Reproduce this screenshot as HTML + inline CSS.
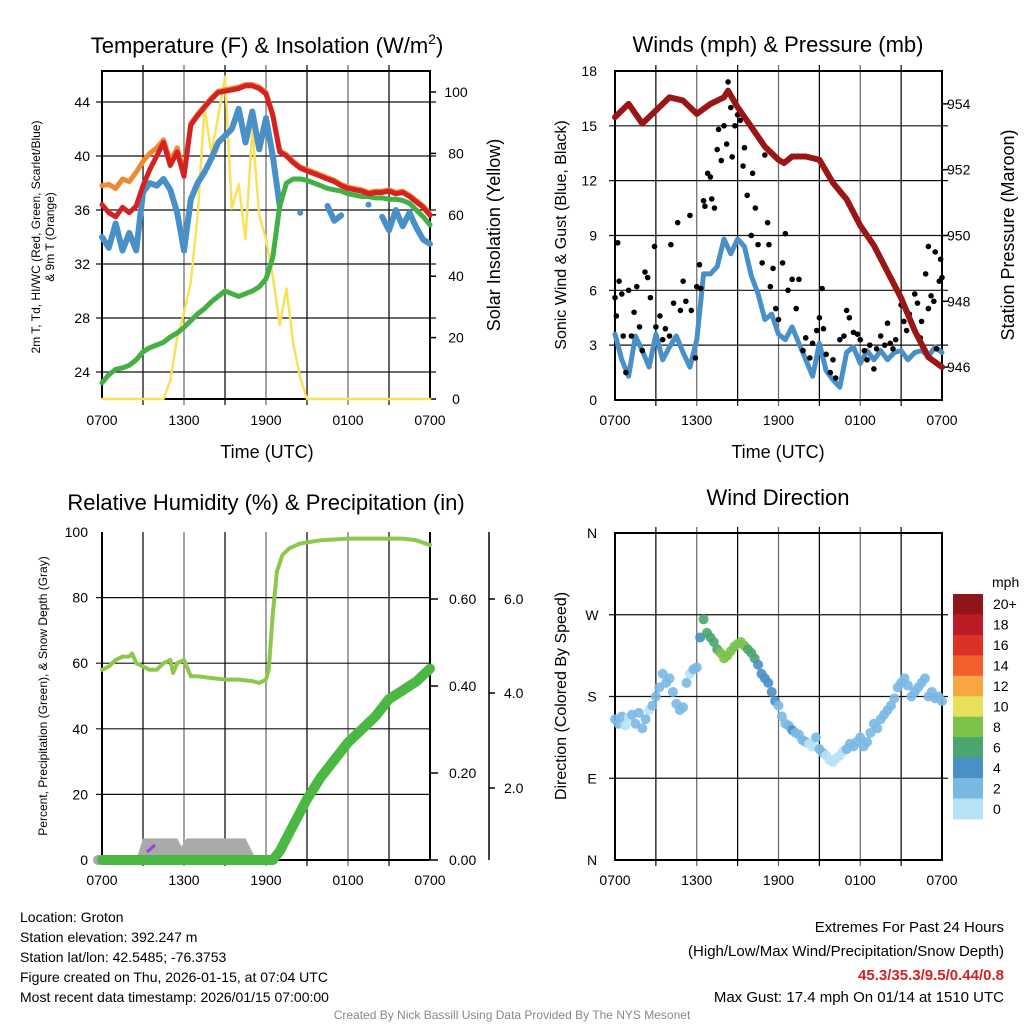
<!DOCTYPE html>
<html><head><meta charset="utf-8"><style>
html,body{margin:0;padding:0;background:#fff;}
svg{display:block;font-family:"Liberation Sans",Arial,sans-serif;}
</style></head><body>
<svg id="chart" width="1024" height="1024" viewBox="0 0 1024 1024" xmlns="http://www.w3.org/2000/svg"></svg>
<script>
// ---------- DATA ----------
const hourLabels = ["0700","1300","1900","0100","0700"];
const halfHours = []; for (let i = 0; i <= 48; i++) halfHours.push(i / 2);
const tempRed = [36.4,35.8,35.5,36.2,35.8,36.3,37.8,39.0,40.0,41.0,39.3,40.3,38.5,
 42.3,43.0,43.6,44.2,44.7,44.8,44.9,45.0,45.2,45.2,45.0,44.6,
 43.0,40.3,40.0,39.5,39.1,38.9,38.7,38.5,38.3,38.1,37.8,37.6,37.5,37.4,37.2,37.3,37.3,37.4,37.2,37.3,37.0,36.6,36.2,35.6];
const tempOrange = [37.8,37.9,37.6,38.3,38.1,38.8,39.6,40.2,40.6,41.2,39.6,40.6,38.8,
 42.4,43.1,43.7,44.3,44.8,44.9,45.0,45.1,45.3,45.3,45.1,44.7,
 43.1,40.4,40.1,39.6,39.2,39.0,38.8,38.6,38.4,38.2,37.9,37.7,37.6,37.5,37.3,37.4,37.4,37.5,37.3,37.4,37.1,36.7,36.3,35.7];
const tempBlue = [34.0,33.2,35.0,33.0,34.3,33.0,37.3,38.0,37.8,38.3,37.5,35.8,33.0,
 36.8,38.0,38.8,39.8,41.0,41.5,42.0,43.5,41.0,43.3,40.5,42.8,
 40.0,36.3,null,null,35.8,null,null,null,36.3,35.2,35.6,null,null,null,36.4,null,35.5,34.5,36.0,34.8,35.8,34.7,33.8,33.5];
const tempGreen = [23.2,23.8,24.2,24.3,24.5,24.9,25.5,25.8,26.0,26.2,26.6,26.9,27.3,
 27.8,28.3,28.7,29.2,29.6,30.0,29.8,29.6,29.8,30.0,30.3,30.9,
 32.5,36.3,38.0,38.3,38.3,38.2,38.0,37.8,37.6,37.5,37.4,37.2,37.1,37.0,37.0,36.9,36.9,36.8,36.8,36.7,36.5,36.0,35.5,34.9];
const solar = [0,0,0,0,0,0,0,0,0,0,
 6,20,28,38,60,95,80,92,105,62,70,52,88,60,52,40,24,36,18,7,
 0,0,0,0,0,0,0,0,0,0,0,0,0,0,0,0,0,0,0];
const pressHours = [0,1,2,3,4,5,6,7,8,8.3,9,10,11,12,12.4,13,14,15,16,17,18,19,20,21,22,23,24];
const pressure = [953.6,954.0,953.4,953.8,954.2,954.1,953.7,954.0,954.2,954.4,953.9,953.3,952.7,952.3,952.2,952.4,952.4,952.3,951.6,951.1,950.3,949.7,948.9,948.1,947.1,946.3,946.0];
const windSpeed = [3.6,2.2,1.3,3.5,2.7,1.8,3.6,2.2,2.9,3.5,2.6,1.8,3.3,6.9,6.9,7.3,8.8,8.0,8.8,8.4,
 6.8,5.8,4.4,4.7,3.6,3.3,4.0,3.1,2.2,1.3,3.1,1.6,1.1,0.7,2.6,2.9,2.0,2.7,2.2,2.7,2.2,2.6,2.7,2.2,2.6,2.7,2.4,2.9,2.6];
const gustHours = [0,0.1,0.2,0.3,0.5,0.6,0.8,1,1.2,1.4,1.6,1.8,2,2.2,2.4,2.6,2.9,3.0,3.3,3.5,3.7,4.0,4.1,4.3,4.6,4.8,5.0,5.2,5.5,5.6,5.9,6.0,6.2,6.3,6.5,6.6,6.8,7.0,7.1,7.3,7.5,7.6,7.8,8.0,8.2,8.3,8.5,8.6,8.8,9.0,9.2,9.4,9.5,9.7,10,10.1,10.3,10.5,10.8,11,11.2,11.3,11.4,11.6,11.8,12,12.3,12.5,12.7,13,13.3,13.5,13.8,14,14.3,14.5,14.8,15,15.2,15.3,15.5,15.8,16,16.2,16.5,16.8,17,17.2,17.5,17.8,18,18.3,18.5,18.7,19,19.2,19.5,19.8,20,20.2,20.4,20.6,21,21.2,21.4,21.6,22,22.2,22.4,22.5,22.8,23,23.2,23.4,23.6,23.8,24,23.9,23.5,23.0];
const gustSpeed = [5.6,4.6,8.6,6.5,5.8,3.5,1.5,6.0,3.5,4.8,6.2,4.0,2.7,7.0,6.7,5.6,8.4,4.0,4.6,3.3,3.9,3.5,8.5,5.3,9.7,4.9,6.5,5.4,10.1,4.9,2.3,6.2,7.4,6.1,10.9,10.6,12.4,12.2,11.0,10.5,13.7,14.8,13.1,15.0,14.0,17.4,16.0,13.3,15.0,15.6,15.3,12.8,13.8,11.2,9.0,12.4,10.5,8.5,7.5,13.4,9.7,8.5,6.2,7.2,5.0,4.4,7.5,9.1,6.0,6.6,5.0,6.6,2.7,3.4,2.3,3.1,3.8,4.5,6.1,3.9,2.5,1.5,2.2,1.2,3.3,3.5,4.9,4.5,3.7,3.6,3.3,2.7,2.2,3.0,1.7,2.8,3.5,3.0,4.2,3.1,2.8,3.3,5.2,4.3,3.8,4.7,5.8,5.3,3.4,4.3,6.9,5.0,5.7,5.4,2.8,6.5,6.7,7.7,8.1,8.4];
const rhHours = [0,0.5,1,1.5,2,2.2,2.5,3,3.5,4,4.5,5,5.2,5.5,6,6.5,7,8,9,10,11,11.5,12,12.2,12.5,12.8,13.2,13.7,14.5,16,18,20,22,23,24];
const rhValues = [58,59,61,62,62,63,60,59,58,58,60,61,57,60,61,56,56,55.5,55,55,54.5,54,55,58,75,88,93,95,96.5,97.5,98,98,98,97.5,96];
const precipHours = [0,12.5,13,14,15,16,17,18,19,20,21,22,23,24];
const precipValues = [0,0,0.02,0.08,0.14,0.19,0.23,0.27,0.30,0.33,0.37,0.39,0.41,0.44];
const snowHours = [0,2.5,3,5.5,5.8,6.2,10.5,11.3,24];
const snowValues = [0,0,0.8,0.8,0.5,0.8,0.8,0,0];
const dirValues = [155,150,158,148,157,160,150,162,145,155,165,170,180,190,205,195,200,185,172,165,168,195,205,210,212,
 245,265,250,245,240,232,228,222,225,230,235,238,240,236,232,228,222,215,205,200,195,185,175,170,
 158,150,148,143,140,138,132,130,128,125,135,122,118,115,110,108,112,115,120,122,128,125,130,135,
 125,130,140,150,145,155,160,165,170,178,190,195,200,192,180,185,190,195,200,180,185,178,180,175];
const cbLabels = ["20+","18","16","14","12","10","8","6","4","2","0"];
const cbColors = ["#8f1519","#b91c24","#dc3127","#f0602b","#f6a744","#e6e05a","#7bc24b","#4aa66e","#4a8fc6","#7ab8e4","#b6e2f7"];

// ---------- HELPERS ----------
const NS = "http://www.w3.org/2000/svg";
const svg = document.getElementById("chart");
function el(tag, attrs, parent) {
  const e = document.createElementNS(NS, tag);
  for (const k in attrs) e.setAttribute(k, attrs[k]);
  (parent || svg).appendChild(e);
  return e;
}
function txt(x, y, s, size, anchor, rot, fill, weight) {
  const t = el("text", {x: x, y: y, "font-size": size, "text-anchor": anchor || "start", fill: fill || "#000"});
  if (weight) t.setAttribute("font-weight", weight);
  if (rot) t.setAttribute("transform", "rotate(" + rot + " " + x + " " + y + ")");
  t.textContent = s;
  return t;
}
function polyline(xs, ys, color, w, name) {
  let segs = [], cur = [];
  for (let i = 0; i < xs.length; i++) {
    if (ys[i] === null) { if (cur.length) segs.push(cur); cur = []; }
    else cur.push(xs[i].toFixed(1) + "," + ys[i].toFixed(1));
  }
  if (cur.length) segs.push(cur);
  segs.forEach(s => {
    if (s.length === 1) {
      const p = s[0].split(",");
      const c = el("circle", {cx: p[0], cy: p[1], r: w / 2, fill: color});
      
      
    } else {
      const p = el("polyline", {points: s.join(" "), fill: "none", stroke: color, "stroke-width": w, "stroke-linejoin": "round", "stroke-linecap": "round"});
      
      
    }
  });
}
function frame(X0, X1, Y0, Y1, hLines, name) {
  const g = el("g", {});
  
  
  for (let i = 1; i < 8; i++) {
    const x = X0 + (X1 - X0) * i / 8;
    el("line", {x1: x, y1: Y0 - 6, x2: x, y2: Y1 + 6, stroke: i % 2 ? "#000" : "#666", "stroke-width": 1.2}, g);
  }
  hLines.forEach(y => el("line", {x1: X0 - 6, y1: y, x2: X1 + 6, y2: y, stroke: "#111", "stroke-width": 1.2}, g));
  el("rect", {x: X0, y: Y0, width: X1 - X0, height: Y1 - Y0, fill: "none", stroke: "#000", "stroke-width": 2}, g);
  return g;
}
function xLabels(X0, X1, y) {
  hourLabels.forEach((s, i) => {
    const t = txt(X0 + (X1 - X0) * i / 4, y, s, 14, "middle");
    
    
  });
}

// ---------- PANEL 1 ----------
(function () {
  const X0 = 102, X1 = 430, Y0 = 71, Y1 = 399;
  const xs = h => X0 + (X1 - X0) * h / 24;
  const yT = v => Y1 - (v - 22) * 13.5;
  const yS = v => Y1 - v * 3.07;
  const ticks = [24, 28, 32, 36, 40, 44];
  frame(X0, X1, Y0, Y1, ticks.map(yT), "temperature-plot-frame");
  ticks.forEach(v => txt(90, yT(v) + 5, String(v), 14, "end"));
  [0, 20, 40, 60, 80, 100].forEach(v => {
    el("line", {x1: X1, y1: yS(v), x2: X1 + 6, y2: yS(v), stroke: "#000", "stroke-width": 1.5});
    txt(456, yS(v) + 5, String(v), 14, "middle");
  });
  const X = halfHours.map(xs);
  polyline(X, solar.map(yS), "#f9e15a", 2.5, "solar-insolation-line");
  polyline(X, tempBlue.map(v => v === null ? null : yT(v)), "#4a90c8", 6, "heat-index-windchill-line");
  polyline(X, tempGreen.map(yT), "#44b044", 5, "dewpoint-line");
  polyline(X, tempOrange.map(yT), "#f08a30", 5, "9m-temperature-line");
  polyline(X, tempRed.map(yT), "#d42222", 5, "2m-temperature-line");
  const t = txt(267, 53, "Temperature (F) & Insolation (W/m", 22, "middle");
  const sup = el("tspan", {"font-size": 14, dy: -9}, t); sup.textContent = "2";
  const cl = el("tspan", {dy: 9}, t); cl.textContent = ")";
   
  xLabels(X0, X1, 425);
  txt(267, 458, "Time (UTC)", 18, "middle");
  txt(40, 237, "2m T, T", 12, "middle", -90);
  const l1 = txt(40, 237, "", 12, "middle", -90);
  l1.textContent = "2m T, Td, HI/WC (Red, Green, Scarlet/Blue)";
  svg.removeChild(svg.lastChild.previousSibling);
  txt(54, 237, "& 9m T (Orange)", 12, "middle", -90);
  txt(500, 235, "Solar Insolation (Yellow)", 18, "middle", -90);
})();

// ---------- PANEL 2 ----------
(function () {
  const X0 = 615, X1 = 942, Y0 = 71, Y1 = 400;
  const xs = h => X0 + (X1 - X0) * h / 24;
  const yW = v => Y1 - v * 18.28;
  const yP = p => Y1 - (p - 945) * 32.9;
  const ticks = [0, 3, 6, 9, 12, 15, 18];
  frame(X0, X1, Y0, Y1, [3, 6, 9, 12, 15].map(yW), "wind-plot-frame");
  ticks.forEach(v => txt(597, yW(v) + 5, String(v), 14, "end"));
  [946, 948, 950, 952, 954].forEach(p => {
    el("line", {x1: X1, y1: yP(p), x2: X1 + 6, y2: yP(p), stroke: "#000", "stroke-width": 1.5});
    txt(947, yP(p) + 5, String(p), 14, "start");
  });
  polyline(halfHours.map(xs), windSpeed.map(yW), "#4a90c8", 5, "sonic-wind-line");
  gustHours.forEach((h, i) => {
    const c = el("circle", {cx: xs(h), cy: yW(gustSpeed[i]), r: 2.8, fill: "#000"});
    
    
  });
  polyline(pressHours.map(xs), pressure.map(yP), "#9a1515", 6, "station-pressure-line");
  txt(778, 52, "Winds (mph) & Pressure (mb)", 22, "middle");
  xLabels(X0, X1, 425);
  txt(778, 458, "Time (UTC)", 18, "middle");
  txt(566, 235, "Sonic Wind & Gust (Blue, Black)", 16, "middle", -90);
  txt(1014, 235, "Station Pressure (Maroon)", 18, "middle", -90);
})();

// ---------- PANEL 3 ----------
(function () {
  const X0 = 102, X1 = 430, Y0 = 532, Y1 = 860;
  const xs = h => X0 + (X1 - X0) * h / 24;
  const yR = v => Y1 - v * 3.28;
  const yPr = v => Y1 - v * 435;
  const yS = v => Y1 - v * 27;
  const lines = [20, 40, 60, 80].map(yR);
  const g = el("g", {});
  
  
  for (let i = 1; i < 8; i++) {
    const x = X0 + (X1 - X0) * i / 8;
    el("line", {x1: x, y1: Y0, x2: x, y2: Y1 + 6, stroke: i % 2 ? "#000" : "#666", "stroke-width": 1.2}, g);
  }
  lines.forEach(y => el("line", {x1: X0 - 6, y1: y, x2: X1, y2: y, stroke: "#111", "stroke-width": 1.2}, g));
  el("line", {x1: X0, y1: Y0, x2: X0, y2: Y1, stroke: "#000", "stroke-width": 2}, g);
  el("line", {x1: X1, y1: Y0, x2: X1, y2: Y1, stroke: "#000", "stroke-width": 2}, g);
  el("line", {x1: X0, y1: Y1, x2: X1, y2: Y1, stroke: "#000", "stroke-width": 2}, g);
  [0, 20, 40, 60, 80, 100].forEach(v => txt(88, yR(v) + 5, String(v), 14, "end"));
  [0, 0.2, 0.4, 0.6].forEach(v => {
    el("line", {x1: X1, y1: yPr(v), x2: X1 + 8, y2: yPr(v), stroke: "#000", "stroke-width": 1.5});
    txt(449, yPr(v) + 5, v.toFixed(2), 14, "start");
  });
  el("line", {x1: 489, y1: Y0, x2: 489, y2: Y1, stroke: "#000", "stroke-width": 1.5});
  [2, 4, 6].forEach((v, i) => {
    const y = [788, 693, 599][i];
    el("line", {x1: 489, y1: y, x2: 495, y2: y, stroke: "#000", "stroke-width": 1.5});
    txt(504, y + 5, v.toFixed(1), 14, "start");
  });
  // snow area
  let pts = snowHours.map((h, i) => xs(h).toFixed(1) + "," + yS(snowValues[i]).toFixed(1));
  const ar = el("polygon", {points: xs(0) + "," + Y1 + " " + pts.join(" ") + " " + xs(24) + "," + Y1, fill: "#aaa"});
  
  
  el("line", {x1: xs(-0.3), y1: Y1, x2: xs(11.3), y2: Y1, stroke: "#aaa", "stroke-width": 10, "stroke-linecap": "round"});
  polyline(precipHours.map(xs), precipValues.map(yPr), "#4cb844", 10, "precipitation-line");
  el("line", {x1: 147, y1: 852, x2: 155, y2: 845, stroke: "#9b3fe0", "stroke-width": 3});
  polyline(rhHours.map(xs), rhValues.map(yR), "#8cc84c", 4, "relative-humidity-line");
  txt(266, 510, "Relative Humidity (%) & Precipitation (in)", 22, "middle");
  xLabels(X0, X1, 885);
  txt(47, 696, "Percent, Precipitation (Green), & Snow Depth (Gray)", 12, "middle", -90);
})();

// ---------- PANEL 4 ----------
(function () {
  const X0 = 615, X1 = 942, Y0 = 533, Y1 = 860;
  const xs = h => X0 + (X1 - X0) * h / 24;
  const yD = d => Y1 - d * (Y1 - Y0) / 360;
  frame(X0, X1, Y0, Y1, [90, 180, 270].map(yD), "wind-direction-plot-frame");
  ["N", "E", "S", "W", "N"].forEach((s, i) => txt(592, yD(i * 90) + 5, s, 14, "middle"));
  const speedAt = h => { const i = Math.min(47, Math.floor(h * 2)); const f = h * 2 - i; return windSpeed[i] * (1 - f) + windSpeed[i + 1] * f; };
  dirValues.forEach((d, i) => {
    const h = i / 4;
    const s = speedAt(h);
    const bin = Math.max(0, Math.min(10, Math.floor(s / 2)));
    const c = el("circle", {cx: xs(h), cy: yD(d), r: 5, fill: cbColors[10 - bin], "fill-opacity": 0.9});
    
    
  });
  txt(778, 505, "Wind Direction", 22, "middle");
  xLabels(X0, X1, 885);
  txt(566, 696, "Direction (Colored By Speed)", 16, "middle", -90);
  // colorbar
  const bh = 225 / 11;
  txt(992, 587, "mph", 14, "start");
  cbColors.forEach((c, i) => {
    const r = el("rect", {x: 953, y: 594 + i * bh, width: 30, height: bh + 0.5, fill: c});
    
    
    txt(993, 594 + i * bh + bh / 2 + 5, cbLabels[i], 14, "start");
  });
})();

// ---------- FOOTER ----------
["Location: Groton","Station elevation: 392.247 m","Station lat/lon: 42.5485; -76.3753","Figure created on Thu, 2026-01-15, at 07:04 UTC","Most recent data timestamp: 2026/01/15 07:00:00"].forEach((s, i) => {
  const t = txt(20, 922 + i * 20, s, 14, "start");
  
  
});
txt(1004, 932, "Extremes For Past 24 Hours", 15, "end");
txt(1004, 956, "(High/Low/Max Wind/Precipitation/Snow Depth)", 15, "end");
txt(1004, 980, "45.3/35.3/9.5/0.44/0.8", 15, "end", 0, "#d42222", "bold");
txt(1004, 1002, "Max Gust: 17.4 mph On 01/14 at 1510 UTC", 15, "end");
txt(512, 1019, "Created By Nick Bassill Using Data Provided By The NYS Mesonet", 12, "middle", 0, "#888");
</script>
</body></html>
